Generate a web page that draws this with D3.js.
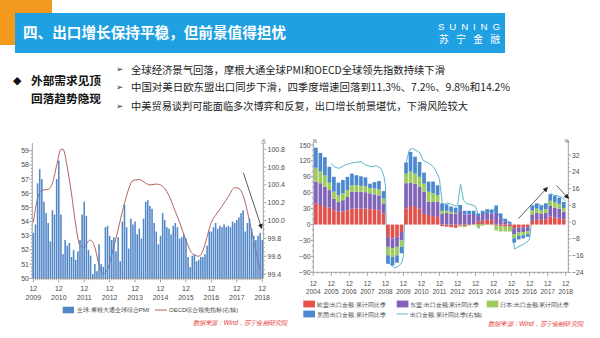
<!DOCTYPE html>
<html>
<head>
<meta charset="utf-8">
<script src="https://cdn.jsdelivr.net/npm/d3@7"></script>
<style>
  html, body { margin: 0; padding: 0; background: #fff; }
  svg { display: block; font-family: "Noto Sans CJK SC", "Noto Sans", sans-serif; }
</style>
</head>
<body>
<svg id="slide" width="600" height="338"></svg>
<script>
// ---------------- text ----------------
const titleText = "四、出口增长保持平稳，但前景值得担忧";
const headKeys = ["外部需求见顶", "回落趋势隐现"];
const bulletLines = [
  "全球经济景气回落，摩根大通全球PMI和OECD全球领先指数持续下滑",
  "中国对美日欧东盟出口同步下滑，四季度增速回落到11.3%、7.2%、9.8%和14.2%",
  "中美贸易谈判可能面临多次博弈和反复，出口增长前景堪忧，下滑风险较大"
];
const sourceText = "数据来源：Wind，苏宁金融研究院";

// ---------------- left chart data (monthly, Dec 2009 – Dec 2018) ----------------
const pmiYears = ["2009","2010","2011","2012","2013","2014","2015","2016","2017","2018"];
const pmiValues = [
  53.2, 53.8, 56.7, 57.7, 57.0, 55.4, 54.6, 53.9, 52.6, 54.8, 54.5, 57.0,
  58.3, 54.5, 51.7, 52.7, 52.3, 52.5, 51.5, 52.0, 51.3, 51.9, 52.7, 54.5,
  55.4, 54.4, 52.0, 51.6, 50.3, 51.0, 50.5, 52.4, 51.0, 50.8, 53.6, 53.7,
  53.0, 52.7, 52.9, 51.9, 52.9, 51.2, 54.0, 55.2, 53.6, 52.1, 54.2, 53.8,
  54.0, 53.1, 53.5, 52.8, 54.2, 55.4, 55.5, 55.1, 54.9, 53.9, 53.3, 52.4,
  53.0, 54.6, 54.1, 53.6, 53.5, 53.1, 53.7, 53.9, 53.6, 52.8, 52.9, 53.1,
  52.8, 51.5, 50.8, 51.6, 51.7, 51.2, 51.3, 51.5, 51.5, 51.7, 52.3, 53.3,
  53.3, 53.6, 53.9, 53.5, 53.7, 53.6, 53.8, 53.6, 53.7, 53.6, 54.0, 53.9,
  54.1, 54.3, 54.6, 54.8, 53.3, 53.9, 54.2, 53.5, 53.0, 52.7, 53.0, 53.2,
  52.7
];
// OECD composite leading indicator, read at month offsets from Dec 2009
const oecdMonth = [0, 2, 4, 7, 9, 11, 13, 14, 16, 18, 20, 22, 24, 26, 27, 29, 31, 33, 35, 37, 39, 42, 44, 47, 50, 53, 55, 58, 60, 62, 64, 67, 69, 72, 75, 78, 80, 82, 84, 86, 89, 92, 95, 97, 99, 101, 103, 105, 107];
const oecdValue = [99.98, 100.25, 100.34, 100.35, 100.42, 100.62, 100.80, 100.80, 100.60, 100.30, 99.95, 99.72, 99.70, 99.77, 99.78, 99.70, 99.50, 99.40, 99.45, 99.62, 99.80, 100.10, 100.28, 100.45, 100.46, 100.42, 100.40, 100.41, 100.40, 100.36, 100.28, 100.10, 99.98, 99.78, 99.63, 99.60, 99.66, 99.82, 99.98, 100.06, 100.16, 100.27, 100.37, 100.36, 100.28, 100.10, 99.88, 99.66, 99.45];
const pmiLegend = "全球:摩根大通全球综合PMI";
const oecdLegend = "OECD综合领先指标(右轴)";

// ---------------- right chart data (quarterly, Q1 2005 – Q4 2018) ----------------
const tradeYears = ["2004","2005","2006","2007","2008","2009","2010","2011","2012","2013","2014","2015","2016","2017","2018"];
const euGrowth    = [40, 37, 33, 32, 27, 24, 25, 27, 30, 30, 30, 30, 29, 29, 27, 21, -23, -26, -23, -14, 30, 35, 33, 30, 20, 18, 16, 14, -3, -4, -5, -6, -2, -3, -1, 1, 6, 8, 9, 9, -2, -3, -4, -4, -7, -6, -5, -5, 7, 9, 9, 10, 15, 13, 12, 9.8];
const aseanGrowth = [41, 41, 38, 33, 22, 19, 21, 25, 32, 32, 32, 31, 30, 28, 28, 19, -19, -19, -19, -16, 48, 44, 44, 41, 42, 25, 27, 29, 20, 22, 21, 20, 27, 19, 19, 19, 10, 12, 13, 12, 22, 12, 6, 2, -11, -9, -9, -8, 12, 13, 12, 12, 20, 19, 18, 14.2];
const japanGrowth = [26, 22, 22, 14, 13, 12, 13, 13, 12, 12, 11, 11, 10, 11, 11, 9, -16, -16, -16, -12, 18, 21, 19, 19, 15, 19, 16, 12, 6, 4, 3, 2, -2, -2, -1, -1, -5, -2, -1, -1, -9, -10, -9, -9, -8, -6, -6, -5, 8, 8, 6, 7, 10, 10, 9, 7.2];
const usGrowth    = [38, 35, 34, 30, 28, 24, 25, 25, 22, 19, 18, 17, 8, 12, 16, 14, -16, -16, -14, -12, 21, 37, 32, 28, 21, 19, 22, 19, 14, 12, 10, 10, 10, 7, 7, 6, 5, 6, 7, 7, 14, 9, 5, 3, -8, -7, -6, -5, 9, 10, 9, 11, 12, 12, 12, 11.3];
const tradeNames = ["欧盟:出口金额:累计同比季", "东盟:出口金额:累计同比季", "日本:出口金额:累计同比季", "美国:出口金额:累计同比季"];
const tradeColors = ["#e2524b", "#8163b9", "#9dcb5c", "#4b88cf"];
// total exports, cumulative YoY (right axis), month offsets from Dec 2004
const exportMonth = [12, 14, 17, 21, 26, 32, 35, 39, 42, 45, 47, 48, 49, 51, 54, 57, 59, 60, 62, 64, 66, 69, 71, 73, 77, 80, 83, 84, 86, 89, 92, 95, 96, 98, 100, 102, 105, 108, 109, 110, 111, 112, 115, 118, 120, 122, 125, 128, 131, 132, 134, 137, 140, 143, 144, 146, 147, 150, 153, 156, 158, 160, 163, 166, 168];
const exportGrowth = [28.0, 26.4, 25.6, 27.2, 28.3, 28.8, 27.2, 26.4, 26.9, 25.6, 22.0, 17.5, -17.5, -19.8, -21.8, -21.0, -19.0, -16.0, 29.0, 34.5, 35.2, 34.0, 33.0, 29.6, 28.0, 26.4, 22.4, 20.3, 8.0, 9.2, 8.5, 7.6, 7.9, 18.2, 10.5, 8.8, 8.4, 7.5, 5.5, -3.2, -1.5, 2.5, 5.0, 5.5, 6.1, 4.8, 2.0, 0.5, 0.0, -2.0, -12.8, -11.5, -10.5, -9.0, -7.7, 4.0, 8.0, 8.5, 7.5, 7.9, 13.6, 12.8, 12.5, 11.5, 9.9];
const exportLegend = "出口金额:累计同比季(右轴)";

// ---------------- drawing ----------------
const svg = d3.select("#slide");
const axisColor = "#8a8a8a", labelColor = "#4a4a4a";

svg.append("defs").append("marker")
  .attr("id", "arrowHead").attr("viewBox", "0 0 8 8").attr("refX", 7).attr("refY", 4)
  .attr("markerWidth", 5).attr("markerHeight", 5).attr("markerUnits", "userSpaceOnUse")
  .attr("orient", "auto")
  .append("path").attr("d", "M0,0 L8,4 L0,8 Z").attr("fill", "#222");

// header band
svg.append("rect").attr("x", 0).attr("y", 0).attr("width", 52).attr("height", 45).attr("fill", "#f39a1e");
svg.append("rect").attr("x", 15).attr("y", 13).attr("width", 490).attr("height", 40).attr("fill", "#1fa0e2");
svg.append("text").attr("x", 23).attr("y", 31).attr("dominant-baseline", "central")
  .attr("fill", "#fff").attr("font-size", 14.6).attr("font-weight", "bold")
  .attr("textLength", 263).attr("lengthAdjust", "spacingAndGlyphs").text(titleText);
svg.append("text").attr("x", 438).attr("y", 26.5).attr("dominant-baseline", "central")
  .attr("fill", "#fff").attr("font-size", 9.8).attr("font-family", "Liberation Sans, Arial, sans-serif")
  .attr("textLength", 62).attr("lengthAdjust", "spacing").text("SUNING");
svg.append("text").attr("x", 439).attr("y", 39).attr("dominant-baseline", "central")
  .attr("fill", "#fff").attr("font-size", 9.8)
  .attr("textLength", 61).attr("lengthAdjust", "spacing").text("苏宁金融");

// key points
svg.append("text").attr("x", 13).attr("y", 80).attr("dominant-baseline", "central")
  .attr("font-size", 11).attr("fill", "#111").attr("font-family", "DejaVu Sans").text("◆");
headKeys.forEach((t, i) => {
  svg.append("text").attr("x", 31).attr("y", [80.3, 98.3][i]).attr("dominant-baseline", "central")
    .attr("font-size", 11.6).attr("font-weight", "bold").attr("fill", "#111")
    .attr("textLength", 70).attr("lengthAdjust", "spacingAndGlyphs").text(t);
});
const bulletY = [69, 86.8, 105.8], bulletW = [314, 379, 337];
bulletLines.forEach((t, i) => {
  svg.append("text").attr("x", 116).attr("y", bulletY[i]).attr("dominant-baseline", "central")
    .attr("font-size", 8.5).attr("fill", "#333").attr("font-family", "DejaVu Sans").text("➢");
  svg.append("text").attr("x", 131).attr("y", bulletY[i]).attr("dominant-baseline", "central")
    .attr("font-size", 10.2).attr("fill", "#222")
    .attr("textLength", bulletW[i]).attr("lengthAdjust", "spacingAndGlyphs").text(t);
});

function line(g, x1, y1, x2, y2, color, w) {
  return g.append("line").attr("x1", x1).attr("y1", y1).attr("x2", x2).attr("y2", y2)
    .attr("stroke", color || axisColor).attr("stroke-width", w || 0.8);
}
function label(g, x, y, t, size, anchor, color) {
  return g.append("text").attr("x", x).attr("y", y).attr("dominant-baseline", "central")
    .attr("text-anchor", anchor || "middle").attr("font-size", size)
    .attr("fill", color || labelColor).attr("font-family", "Liberation Sans, Arial, sans-serif").text(t);
}

// ======== left chart ========
const gL = svg.append("g");
const pmiX = d3.scaleLinear().domain([-0.5, pmiValues.length - 0.5]).range([32.3, 263.3]);
const pmiY = d3.scaleLinear().domain([50, 59]).range([278.3, 150.7]);
const oecdY = d3.scaleLinear().domain([99.4, 100.8]).range([274, 149.3]);

// OECD line sits behind the bars
const oecdPts = oecdMonth.map((m, i) => ({ m, v: oecdValue[i] }));
gL.append("path").datum(oecdPts)
  .attr("d", d3.line().x(d => pmiX(d.m)).y(d => oecdY(d.v)).curve(d3.curveMonotoneX))
  .attr("fill", "none").attr("stroke", "#b5625c").attr("stroke-width", 1);

gL.selectAll("rect.pmi").data(pmiValues).join("rect").attr("class", "pmi")
  .attr("x", (d, i) => pmiX(i) - 0.78).attr("width", 1.56)
  .attr("y", d => pmiY(d)).attr("height", d => pmiY(50) - pmiY(d))
  .attr("fill", "#5287c8");

// axes
line(gL, 32.3, 278.3, 32.3, 143);
line(gL, 263.3, 278.3, 263.3, 143);
line(gL, 32.3, 278.3, 263.3, 278.3);
d3.range(50, 59.001, 0.25).forEach(v => {
  const major = Math.abs(v - Math.round(v)) < 1e-6;
  line(gL, 32.3 - (major ? 3 : 1.5), pmiY(v), 32.3, pmiY(v));
  if (major) label(gL, 29, pmiY(v), d3.format("d")(v), 7, "end");
});
d3.range(99.4, 100.801, 0.05).forEach(v => {
  const major = Math.abs(v * 5 - Math.round(v * 5)) < 1e-6;
  line(gL, 263.3, oecdY(v), 263.3 + (major ? 3 : 1.5), oecdY(v));
  if (major) label(gL, 267.5, oecdY(v), d3.format(".1f")(v), 7, "start");
});
pmiValues.forEach((d, i) => {
  const major = i % 12 === 0;
  line(gL, pmiX(i), 278.3, pmiX(i), 278.3 + (major ? 4 : 1.8));
});
pmiYears.forEach((y, k) => {
  label(gL, pmiX(k * 12), 288, "12", 7);
  label(gL, pmiX(k * 12), 297.7, y, 7);
});
label(gL, 263.3, 141, "点", 4.5);

// trend arrow
line(gL, 243.3, 172.7, 261.7, 228.3, "#333", 0.8).attr("marker-end", "url(#arrowHead)");

// legend and source
gL.append("rect").attr("x", 62.7).attr("y", 306.7).attr("width", 11.3).attr("height", 6.6).attr("fill", "#5287c8");
label(gL, 77, 310, pmiLegend, 6, "start", "#444");
line(gL, 155, 310, 167, 310, "#b5625c", 1);
label(gL, 169, 310, oecdLegend, 6, "start", "#444");
label(gL, 193, 322.3, sourceText, 6.3, "start", "#e8403a").attr("font-style", "italic")
  .attr("textLength", 94).attr("lengthAdjust", "spacingAndGlyphs");

// ======== right chart ========
const gR = svg.append("g");
const qX = d3.scaleLinear().domain([0, euGrowth.length]).range([313.3, 565.7]);
const mX = d3.scaleLinear().domain([0, euGrowth.length * 3]).range([313.3, 565.7]);
const barY = d3.scaleLinear().domain([-90, 150]).range([272.3, 145]);
const expY = d3.scaleLinear().domain([-24, 32]).range([272.5, 155]);

// total export line sits behind the stacked bars
const expPts = exportMonth.map((m, i) => ({ m, v: exportGrowth[i] }));
gR.append("path").datum(expPts)
  .attr("d", d3.line().x(d => mX(d.m)).y(d => expY(d.v)))
  .attr("fill", "none").attr("stroke", "#5db6cb").attr("stroke-width", 1);

const rows = euGrowth.map((d, i) => ({ q: i + 1, eu: d, asean: aseanGrowth[i], japan: japanGrowth[i], us: usGrowth[i] }));
const stacked = d3.stack().keys(["eu", "asean", "japan", "us"]).offset(d3.stackOffsetDiverging)(rows);
gR.selectAll("g.series").data(stacked).join("g").attr("class", "series")
  .attr("fill", (d, i) => tradeColors[i])
  .selectAll("rect").data(d => d).join("rect")
  .attr("x", d => qX(d.data.q) - 3.75).attr("width", 3.65)
  .attr("y", d => barY(Math.max(d[0], d[1])))
  .attr("height", d => Math.abs(barY(d[0]) - barY(d[1])));

// axes
line(gR, 313.3, 272.3, 313.3, 142);
line(gR, 568.3, 272.5, 568.3, 141);
line(gR, 313.3, 272.3, 568.3, 272.3);
d3.range(-90, 150.001, 10).forEach(v => {
  const major = v % 30 === 0;
  line(gR, 313.3 - (major ? 2.5 : 1.2), barY(v), 313.3, barY(v));
  if (major) label(gR, 310.5, barY(v), d3.format("d")(v), 6.8, "end");
});
d3.range(-24, 32.001, 2).forEach(v => {
  const major = v % 8 === 0;
  line(gR, 568.3, expY(v), 568.3 + (major ? 2.5 : 1.2), expY(v));
  if (major) label(gR, 572, expY(v), d3.format("d")(v), 6.8, "start");
});
d3.range(0, euGrowth.length + 1).forEach(q => {
  const major = q % 4 === 0;
  line(gR, qX(q), 272.3, qX(q), 272.3 + (major ? 3.5 : 1.6));
});
tradeYears.forEach((y, k) => {
  label(gR, qX(k * 4), 283.5, "12", 6.5);
  label(gR, qX(k * 4), 291.5, y, 6.5);
});
label(gR, 315, 141.5, "%", 4.5);
label(gR, 566.7, 141.5, "%", 4.5);

// trend arrows
line(gR, 518.5, 218.5, 547.5, 187.5, "#333", 0.8).attr("marker-end", "url(#arrowHead)");
line(gR, 556.5, 185.5, 568.5, 198.5, "#333", 0.8).attr("marker-end", "url(#arrowHead)");

// legend and source
const legendPos = [[303.3, 304], [396.7, 304], [486.7, 304], [303.3, 314]];
tradeNames.forEach((t, i) => {
  const [lx, ly] = legendPos[i];
  gR.append("rect").attr("x", lx).attr("y", ly - 3.4).attr("width", 11.7).attr("height", 6.8).attr("fill", tradeColors[i]);
  label(gR, lx + 13.4, ly, t, 6.1, "start", "#444");
});
line(gR, 396.7, 314, 408.3, 314, "#5db6cb", 1);
label(gR, 410, 314, exportLegend, 6.1, "start", "#444");
label(gR, 488, 323.3, sourceText, 6.3, "start", "#e8403a").attr("font-style", "italic")
  .attr("textLength", 95).attr("lengthAdjust", "spacingAndGlyphs");
</script>
</body>
</html>
